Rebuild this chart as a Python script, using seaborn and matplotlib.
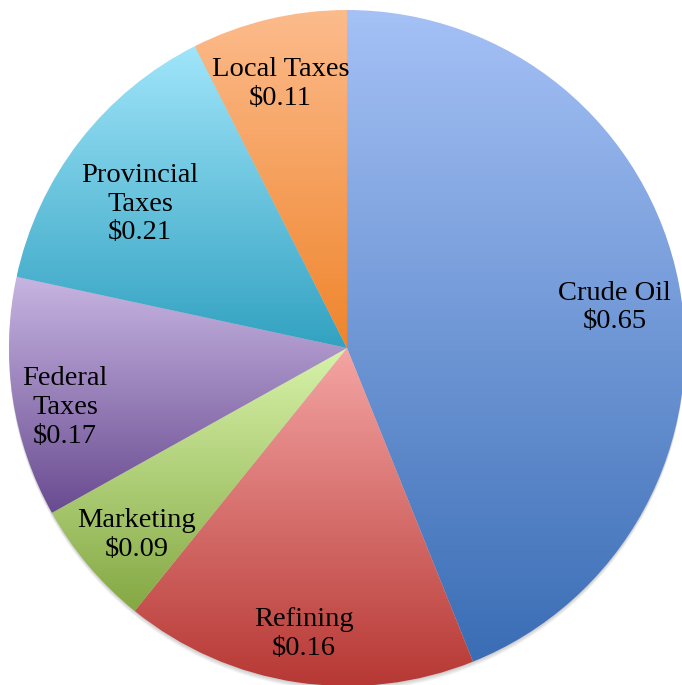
import numpy as np
import seaborn as sns
import matplotlib.pyplot as plt
from matplotlib.patches import Circle

# data
categories = ['Crude Oil', 'Refining', 'Marketing', 'Federal\nTaxes', 'Provincial\nTaxes', 'Local Taxes']
# slice sizes as drawn in the picture (refining slice is drawn bigger than its label)
values = [0.65, 0.25, 0.09, 0.17, 0.21, 0.11]
value_labels = ['$0.65', '$0.16', '$0.09', '$0.17', '$0.21', '$0.11']

# gradient colours per slice (top -> bottom)
top_colors = ['#A5C1F6', '#F4A5A4', '#D8F3AA', '#C7B5E2', '#A0E5FA', '#FCBB8C']
bottom_colors = ['#3A6DB5', '#B73834', '#84A843', '#694B90', '#32A2C1', '#EF852C']

# label placement (fraction of radius, angle nudge in degrees)
label_dist = [0.80, 0.855, 0.834, 0.853, 0.746, 0.805]
label_nudge = [-2.35, 0.0, 1.5, 3.4, 2.9, 0.8]

sns.set_style('white')

W, H = 682, 685
cx, cy, R = 347, H - 348, 338

fig = plt.figure(figsize=(W / 100, H / 100), dpi=100)
ax = fig.add_axes([0, 0, 1, 1])

# soft drop shadow, only below the pie
for k in range(1, 6):
    ax.add_patch(Circle((cx, cy - k), R, color='black',
                        alpha=0.04, lw=0, zorder=0))

wedges, _ = ax.pie(values, startangle=90, counterclock=False, radius=R,
                   center=(cx, cy), wedgeprops=dict(linewidth=0))

for i, w in enumerate(wedges):
    w.set_facecolor('none')
    w.set_edgecolor('none')
    t = np.radians(np.linspace(w.theta1, w.theta2, 200))
    xs = np.concatenate([[cx], cx + R * np.cos(t)])
    ys = np.concatenate([[cy], cy + R * np.sin(t)])
    grad = sns.blend_palette([bottom_colors[i], top_colors[i]], n_colors=256)
    img = np.array(grad)[:, None, :]
    im = ax.imshow(img, extent=[xs.min(), xs.max(), ys.min(), ys.max()],
                   origin='lower', aspect='auto', interpolation='bilinear', zorder=1)
    im.set_clip_path(w)

    mid = np.radians((w.theta1 + w.theta2) / 2 + label_nudge[i])
    lx = cx + label_dist[i] * R * np.cos(mid)
    ly = cy + label_dist[i] * R * np.sin(mid)
    ax.text(lx, ly, f'{categories[i]}\n{value_labels[i]}', ha='center', va='center',
            fontsize=20.5, family='Liberation Serif', color='black',
            linespacing=1.2, zorder=3)

ax.set_xlim(0, W)
ax.set_ylim(0, H)
ax.set_aspect('equal')
ax.axis('off')

fig.savefig('out.png', dpi=100)
